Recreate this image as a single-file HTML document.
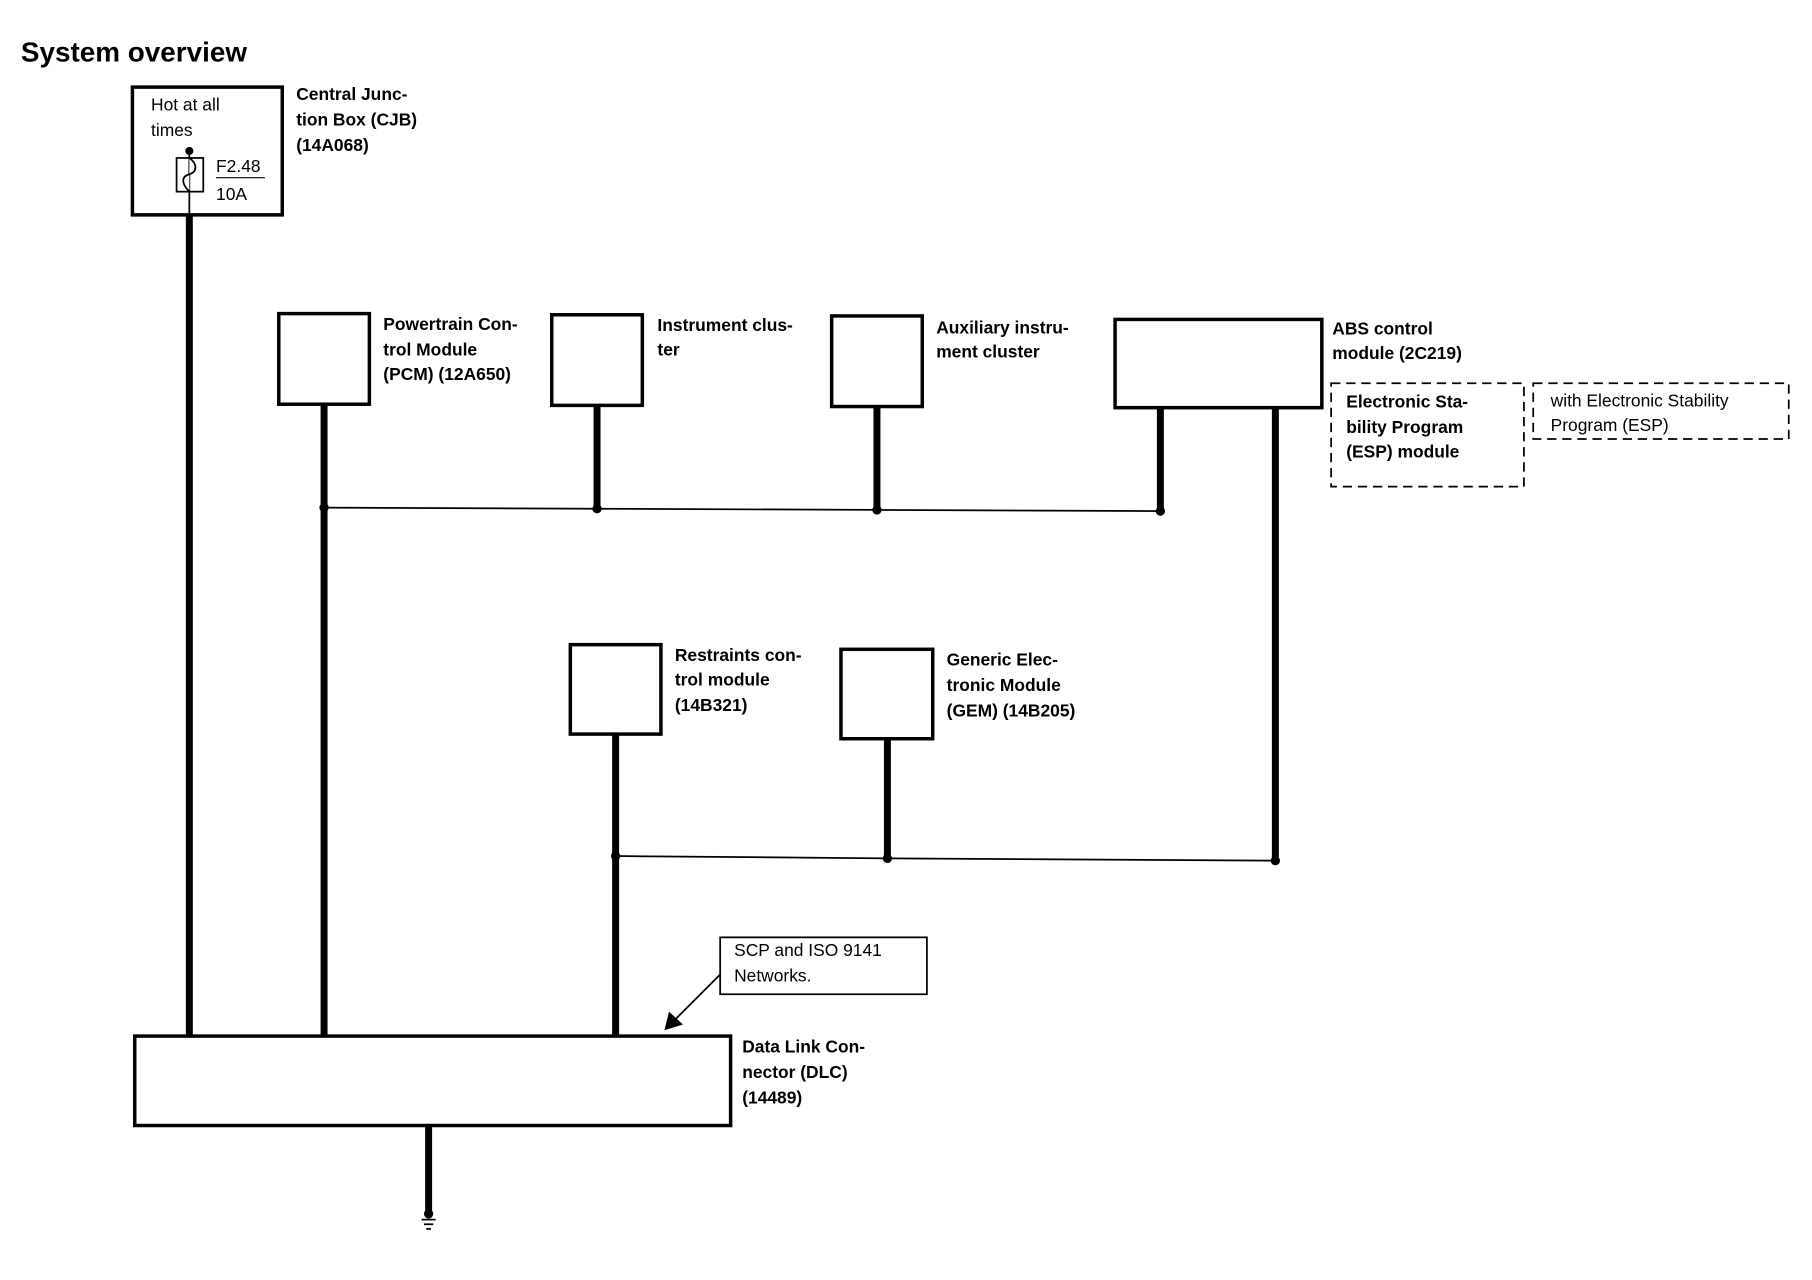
<!DOCTYPE html>
<html><head><meta charset="utf-8"><style>
html,body{margin:0;padding:0;background:#fff;}
svg{display:block;}
text{font-family:"Liberation Sans",Arial,sans-serif;fill:#000;}
.b{font-weight:bold;font-size:15px;}
.r{font-size:15px;}
</style></head><body>
<svg width="1812" height="1280" viewBox="0 0 1560 1102" xmlns="http://www.w3.org/2000/svg">
<rect width="1560" height="1102" fill="#fff"/>
<text x="18" y="53" style="font-weight:bold;font-size:24px">System overview</text>
<!-- CJB -->
<rect x="114" y="75" width="129" height="110" fill="none" stroke="#000" stroke-width="3"/>
<text class="r" x="130" y="95">Hot at all</text>
<text class="r" x="130" y="117">times</text>
<circle cx="163" cy="130" r="3.5" fill="#000"/>
<line x1="163" y1="130" x2="163" y2="185" stroke="#000" stroke-width="1.5"/>
<rect x="152" y="136" width="23" height="29" fill="none" stroke="#000" stroke-width="1.5"/>
<path d="M163 136 C170 141,170 148,163 150 C156 152,156 158,163 165" fill="#fff" stroke="#000" stroke-width="1.5"/>
<text class="r" x="186" y="148">F2.48</text>
<line x1="186" y1="153" x2="228" y2="153" stroke="#000" stroke-width="1"/>
<text class="r" x="186" y="172">10A</text>
<text class="b" x="255" y="86">Central Junc-</text>
<text class="b" x="255" y="108">tion Box (CJB)</text>
<text class="b" x="255" y="130">(14A068)</text>
<!-- thick wires -->
<g stroke="#000" stroke-width="6">
<line x1="163" y1="185" x2="163" y2="893"/>
<line x1="279" y1="348" x2="279" y2="893"/>
<line x1="514" y1="349" x2="514" y2="438"/>
<line x1="755" y1="350" x2="755" y2="439"/>
<line x1="999" y1="351" x2="999" y2="440"/>
<line x1="1098" y1="351" x2="1098" y2="741"/>
<line x1="530" y1="632" x2="530" y2="893"/>
<line x1="764" y1="636" x2="764" y2="739"/>
<line x1="369" y1="969" x2="369" y2="1043"/>
</g>
<!-- boxes -->
<g fill="#fff" stroke="#000" stroke-width="3">
<rect x="240" y="270" width="78" height="78"/>
<rect x="475" y="271" width="78" height="78"/>
<rect x="716" y="272" width="78" height="78"/>
<rect x="960" y="275" width="178" height="76"/>
<rect x="491" y="555" width="78" height="77"/>
<rect x="724" y="559" width="79" height="77"/>
<rect x="116" y="892" width="513" height="77"/>
</g>
<text class="b" x="330" y="284">Powertrain Con-</text>
<text class="b" x="330" y="306">trol Module</text>
<text class="b" x="330" y="327">(PCM) (12A650)</text>
<text class="b" x="566" y="285">Instrument clus-</text>
<text class="b" x="566" y="306">ter</text>
<text class="b" x="806" y="287">Auxiliary instru-</text>
<text class="b" x="806" y="308">ment cluster</text>
<text class="b" x="1147" y="288">ABS control</text>
<text class="b" x="1147" y="309">module (2C219)</text>
<rect x="1146" y="330" width="166" height="89" fill="none" stroke="#000" stroke-width="1.5" stroke-dasharray="8,5"/>
<text class="b" x="1159" y="351">Electronic Sta-</text>
<text class="b" x="1159" y="373">bility Program</text>
<text class="b" x="1159" y="394">(ESP) module</text>
<rect x="1320" y="330" width="220" height="48" fill="none" stroke="#000" stroke-width="1.5" stroke-dasharray="8,5"/>
<text class="r" x="1335" y="350">with Electronic Stability</text>
<text class="r" x="1335" y="371">Program (ESP)</text>
<!-- bus 1 -->
<path d="M279 437 L514 438 L755 439 L999 440" fill="none" stroke="#000" stroke-width="1.5"/>
<g fill="#000"><circle cx="279" cy="437" r="4"/><circle cx="514" cy="438" r="4"/><circle cx="755" cy="439" r="4"/><circle cx="999" cy="440" r="4"/></g>
<text class="b" x="581" y="569">Restraints con-</text>
<text class="b" x="581" y="590">trol module</text>
<text class="b" x="581" y="612">(14B321)</text>
<text class="b" x="815" y="573">Generic Elec-</text>
<text class="b" x="815" y="595">tronic Module</text>
<text class="b" x="815" y="617">(GEM) (14B205)</text>
<!-- bus 2 -->
<path d="M530 737 L764 739 L1098 741" fill="none" stroke="#000" stroke-width="1.5"/>
<g fill="#000"><circle cx="530" cy="737" r="4"/><circle cx="764" cy="739" r="4"/><circle cx="1098" cy="741" r="4"/></g>
<!-- note -->
<rect x="620" y="807" width="178" height="49" fill="#fff" stroke="#000" stroke-width="1.5"/>
<text class="r" x="632" y="823">SCP and ISO 9141</text>
<text class="r" x="632" y="845">Networks.</text>
<line x1="620" y1="839" x2="580" y2="879" stroke="#000" stroke-width="1.5"/>
<polygon points="572,887 576,871 588,882" fill="#000"/>
<text class="b" x="639" y="906">Data Link Con-</text>
<text class="b" x="639" y="928">nector (DLC)</text>
<text class="b" x="639" y="950">(14489)</text>
<!-- ground -->
<circle cx="369" cy="1045" r="4" fill="#000"/>
<line x1="363" y1="1050" x2="375" y2="1050" stroke="#000" stroke-width="1.5"/>
<line x1="365" y1="1054" x2="373" y2="1054" stroke="#000" stroke-width="1.5"/>
<line x1="367" y1="1058" x2="371" y2="1058" stroke="#000" stroke-width="1.5"/>
</svg>
</body></html>
